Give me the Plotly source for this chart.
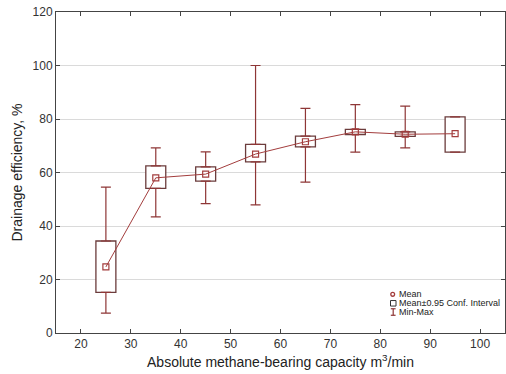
import plotly.graph_objects as go

# Absolute methane-bearing capacity classes (bin centres, m3/min)
capacity = [25, 35, 45, 55, 65, 75, 85, 95]
# Drainage efficiency statistics per class, %
mean_eff = [24.7, 58.0, 59.4, 66.9, 71.5, 75.2, 74.3, 74.5]
ci_low = [15.2, 54.1, 56.8, 64.0, 69.6, 74.2, 73.5, 67.6]
ci_high = [34.4, 62.5, 62.1, 70.5, 73.6, 76.1, 75.2, 80.8]
eff_min = [7.4, 43.4, 48.4, 47.9, 56.4, 67.6, 69.2, 67.6]
eff_max = [54.5, 69.2, 67.7, 100.0, 84.0, 85.4, 84.8, 80.8]

x_ticks = [20, 30, 40, 50, 60, 70, 80, 90, 100]
y_ticks = [0, 20, 40, 60, 80, 100, 120]

LINE_C = "#a33d3d"
WHISK_C = "#8e3636"
BOX_C = "#6b3c3c"
FONT = "Liberation Sans, Arial, sans-serif"

fig = go.Figure()

# Confidence-interval boxes (white fill hides the gridlines behind them)
fig.add_trace(go.Bar(
    x=capacity,
    y=[h - l for h, l in zip(ci_high, ci_low)],
    base=ci_low,
    width=4,
    marker=dict(color="white", line=dict(color=BOX_C, width=1.3)),
    showlegend=False, hoverinfo="skip",
))

# Upper whiskers: from the top of the box to the maximum
fig.add_trace(go.Scatter(
    x=capacity, y=ci_high, mode="markers",
    marker=dict(size=1, opacity=0),
    error_y=dict(type="data", symmetric=False,
                 array=[mx - h for mx, h in zip(eff_max, ci_high)],
                 arrayminus=[0] * len(capacity),
                 color=WHISK_C, thickness=1.2, width=5),
    showlegend=False, hoverinfo="skip",
))

# Lower whiskers: from the bottom of the box to the minimum
fig.add_trace(go.Scatter(
    x=capacity, y=ci_low, mode="markers",
    marker=dict(size=1, opacity=0),
    error_y=dict(type="data", symmetric=False,
                 array=[0] * len(capacity),
                 arrayminus=[l - mn for l, mn in zip(ci_low, eff_min)],
                 color=WHISK_C, thickness=1.2, width=5),
    showlegend=False, hoverinfo="skip",
))

# Mean values joined by a line
fig.add_trace(go.Scatter(
    x=capacity, y=mean_eff, mode="lines+markers",
    line=dict(color=LINE_C, width=1),
    marker=dict(symbol="square-open", size=6, color=LINE_C,
                line=dict(color=LINE_C, width=1.2)),
    showlegend=False,
))

# Hand-built legend in the lower right corner (paper coordinates)
X0, X1, Y0, Y1 = 56.0, 505.0, 332.7, 12.3


def px(x):
    return (x - X0) / (X1 - X0)


def py(y):
    return (Y0 - y) / (Y0 - Y1)


shapes = [
    dict(type="circle", xref="paper", yref="paper",
         x0=px(390.8), x1=px(394.6), y0=py(296.0), y1=py(292.2),
         line=dict(color=LINE_C, width=1.3), fillcolor="white"),
    dict(type="rect", xref="paper", yref="paper",
         x0=px(390.5), x1=px(396.0), y0=py(305.8), y1=py(300.3),
         line=dict(color="#333333", width=1), fillcolor="white"),
    dict(type="line", xref="paper", yref="paper",
         x0=px(393.2), x1=px(393.2), y0=py(315.0), y1=py(308.5),
         line=dict(color=WHISK_C, width=1.2)),
    dict(type="line", xref="paper", yref="paper",
         x0=px(390.8), x1=px(395.6), y0=py(308.5), y1=py(308.5),
         line=dict(color=WHISK_C, width=1.2)),
    dict(type="line", xref="paper", yref="paper",
         x0=px(390.8), x1=px(395.6), y0=py(315.0), y1=py(315.0),
         line=dict(color=WHISK_C, width=1.2)),
]

legend_items = [("Mean", 294.0), ("Mean±0.95 Conf. Interval", 303.0), ("Min-Max", 312.0)]
annotations = [
    dict(text=t, xref="paper", yref="paper", x=px(397.0), y=py(yc),
         xanchor="left", yanchor="middle", showarrow=False,
         font=dict(family=FONT, size=9, color="#222222"))
    for t, yc in legend_items
]

axis_common = dict(
    showline=True, linecolor="#444444", linewidth=1, mirror="ticks",
    ticks="inside", ticklen=4, tickcolor="#444444", tickwidth=1,
    tickfont=dict(family=FONT, size=12, color="#333333"),
    zeroline=False,
)

fig.update_layout(
    width=506, height=374,
    margin=dict(l=56, r=1, t=12, b=41),
    paper_bgcolor="white", plot_bgcolor="white",
    barmode="overlay",
    shapes=shapes, annotations=annotations,
    xaxis=dict(
        range=[15, 105], tickvals=x_ticks, showgrid=False,
        title=dict(text="Absolute methane-bearing capacity m<sup>3</sup>/min",
                   font=dict(family=FONT, size=14, color="#222222"),
                   standoff=6),
        **axis_common,
    ),
    yaxis=dict(
        range=[0, 120], tickvals=y_ticks, showgrid=True,
        gridcolor="#dadada", gridwidth=1,
        title=dict(text="Drainage efficiency, %",
                   font=dict(family=FONT, size=14, color="#222222"),
                   standoff=6),
        **axis_common,
    ),
)

fig.write_html("out.html")
